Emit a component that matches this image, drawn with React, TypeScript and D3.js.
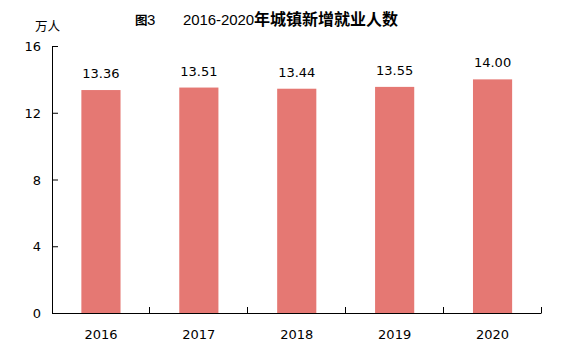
import { useEffect, useRef } from 'react';
import * as d3 from 'd3';

const years = ['2016', '2017', '2018', '2019', '2020'];
const newJobs = [13.36, 13.51, 13.44, 13.55, 14.0];
const yTicks = [0, 4, 8, 12, 16];

export default function App() {
    const svgRef = useRef<SVGSVGElement>(null);

    useEffect(() => {
        if (!svgRef.current) return;
        const svg = d3.select(svgRef.current);
        svg.selectAll('*').remove();

        const font = '"DejaVu Sans", sans-serif';
        const cjk = '"Noto Sans CJK SC", sans-serif';
        const left = 52, right = 541.5, top = 46, bottom = 313;

        const x = d3.scaleBand<string>().domain(years).range([left, right]).paddingInner(0.6).paddingOuter(0.3);
        const y = d3.scaleLinear().domain([0, 16]).range([bottom, top]);

        // Title: mixed fonts, like the original
        const title = svg.append('text').attr('y', 25).attr('fill', '#000');
        title.append('tspan').attr('x', 135).attr('font-weight', 'bold').attr('font-family', cjk).attr('font-size', 12.5).text('图');
        title.append('tspan').attr('x', 147).attr('font-family', '"Liberation Sans", sans-serif').attr('font-size', 15).text('3');
        title.append('tspan').attr('x', 183).attr('font-family', '"Liberation Sans", sans-serif').attr('font-size', 15)
            .attr('textLength', 71).text('2016-2020');
        title.append('tspan').attr('x', 254).attr('font-weight', 'bold').attr('font-family', cjk).attr('font-size', 16).text('年城镇新增就业人数');

        // Unit
        svg.append('text')
            .attr('x', 35)
            .attr('y', 31)
            .attr('font-size', 12.5)
            .attr('font-family', cjk)
            .text('万人');

        // Bars
        svg.append('g')
            .selectAll('rect')
            .data(newJobs)
            .join('rect')
            .attr('x', (_, i) => x(years[i])!)
            .attr('width', x.bandwidth())
            .attr('y', d => y(d))
            .attr('height', d => y(0) - y(d))
            .attr('fill', '#E57873');

        // Value labels
        svg.append('g')
            .selectAll('text')
            .data(newJobs)
            .join('text')
            .attr('x', (_, i) => x(years[i])! + x.bandwidth() / 2)
            .attr('y', d => y(d) - 12)
            .attr('text-anchor', 'middle')
            .attr('font-size', 13)
            .attr('font-family', font)
            .attr('fill', '#000')
            .text(d => d.toFixed(2));

        // Y axis (ticks inward)
        const yAxis = svg.append('g')
            .attr('transform', `translate(${left},0)`)
            .call(d3.axisRight(y).tickValues(yTicks).tickSize(6).tickFormat(() => ''));
        yAxis.select('.domain').attr('d', `M0.5,${top}V${bottom}`).attr('stroke', '#000');
        yAxis.selectAll('line').attr('stroke', '#000');

        svg.append('g')
            .selectAll('text')
            .data(yTicks)
            .join('text')
            .attr('x', 41)
            .attr('y', d => y(d) + 5)
            .attr('text-anchor', 'end')
            .attr('font-size', 13)
            .attr('font-family', font)
            .attr('fill', '#000')
            .text(d => d);

        // X axis with upward ticks at category boundaries
        const bounds = d3.range(years.length + 1).map(i => left + i * (right - left) / years.length);
        svg.append('line')
            .attr('x1', left).attr('x2', right)
            .attr('y1', bottom + 0.5).attr('y2', bottom + 0.5)
            .attr('stroke', '#000');
        svg.append('g')
            .selectAll('line')
            .data(bounds.slice(1))
            .join('line')
            .attr('x1', d => Math.round(d) - 0.5).attr('x2', d => Math.round(d) - 0.5)
            .attr('y1', bottom).attr('y2', bottom - 6)
            .attr('stroke', '#000');

        svg.append('g')
            .selectAll('text')
            .data(years)
            .join('text')
            .attr('x', d => x(d)! + x.bandwidth() / 2)
            .attr('y', 339)
            .attr('text-anchor', 'middle')
            .attr('font-size', 13)
            .attr('font-family', font)
            .attr('fill', '#000')
            .text(d => d);
    }, []);

    return (
        <svg ref={svgRef} width={582} height={361}
             style={{ position: 'absolute', left: 0, top: 0, background: '#fff' }} />
    );
}
